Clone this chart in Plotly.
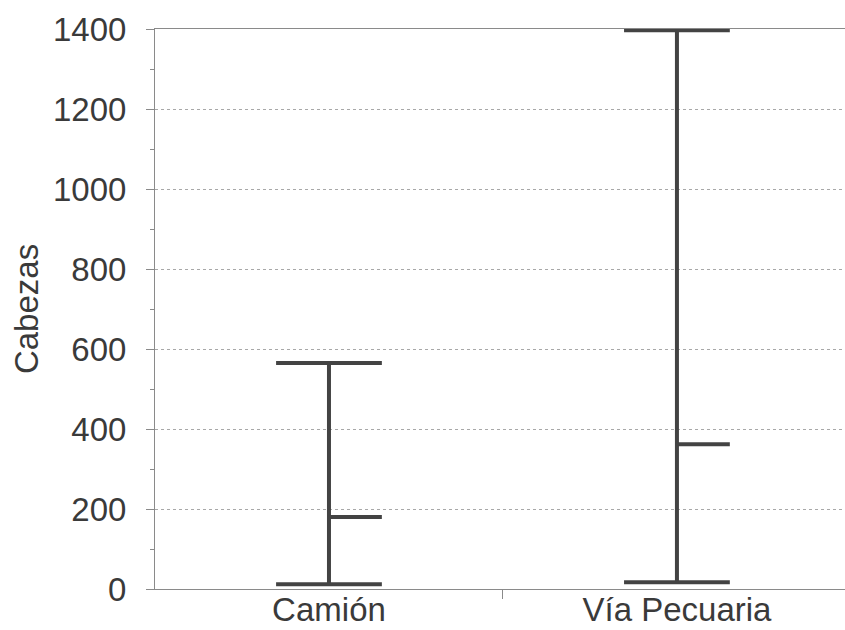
import plotly.graph_objects as go

categories = ["Camión", "Vía Pecuaria"]
high_values = [565, 1397]
low_values = [12, 17]
close_values = [180, 362]
y_ticks = [0, 200, 400, 600, 800, 1000, 1200, 1400]

CAP = 0.152
COLOR = "#434343"
LW = 4

fig = go.Figure()
for i, cat in enumerate(categories):
    hi, lo, cl = high_values[i], low_values[i], close_values[i]
    xs = [i, i, None, i - CAP, i + CAP, None, i - CAP, i + CAP, None, i, i + CAP]
    ys = [lo, hi, None, hi, hi, None, lo, lo, None, cl, cl]
    fig.add_trace(go.Scatter(x=xs, y=ys, mode="lines", name=cat,
                             line=dict(color=COLOR, width=LW),
                             showlegend=False, hoverinfo="skip"))

FONT = "Liberation Sans, Arial, sans-serif"
FS = 33
fig.update_layout(
    width=845, height=630,
    margin=dict(l=155, r=0, t=29, b=41, autoexpand=False),
    paper_bgcolor="white", plot_bgcolor="white",
    font=dict(family=FONT, size=FS, color="#3a3a3a"),
    xaxis=dict(
        range=[-0.5, 1.483], tickvals=[0, 1], ticktext=categories,
        ticks="", ticklen=0, showgrid=False, zeroline=False, automargin=False,
        showline=True, linecolor="#8a8a8a", linewidth=1, mirror=True,
        minor=dict(tickvals=[0.5], ticks="outside", ticklen=9, tickcolor="#8a8a8a", showgrid=False),
        tickfont=dict(size=33, color="#3a3a3a"),
        ticklabelstandoff=-9,
    ),
    yaxis=dict(
        range=[0, 1400], tickvals=y_ticks, automargin=False,
        ticks="outside", ticklen=8, tickcolor="#8a8a8a",
        showline=True, linecolor="#8a8a8a", linewidth=1,
        showgrid=True, gridcolor="#a8a8a8", griddash="dot", gridwidth=1,
        zeroline=False,
        minor=dict(dtick=100, ticks="outside", ticklen=4, tickcolor="#8a8a8a", showgrid=False),
        tickfont=dict(size=FS, color="#3a3a3a"),
        ticklabelstandoff=13,
        title=dict(text="Cabezas", font=dict(size=FS, color="#3a3a3a"), standoff=4),
    ),
)

fig.write_html("out.html", config={"displayModeBar": False},
               post_script="document.body.style.margin='0';document.body.style.overflow='hidden';")
